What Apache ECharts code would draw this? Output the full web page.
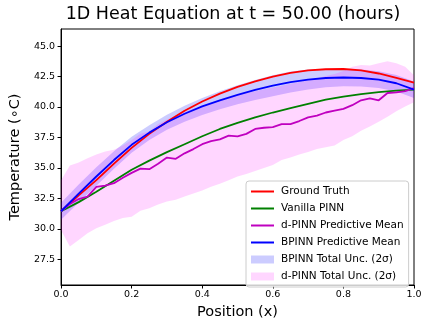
<!DOCTYPE html>
<html>
<head>
<meta charset="utf-8">
<title>1D Heat Equation</title>
<script src="https://cdn.jsdelivr.net/npm/echarts@6/dist/echarts.min.js"></script>
<style>
  html, body { margin: 0; padding: 0; background: #fff; }
  #main { width: 429px; height: 326px; }
</style>
</head>
<body>
<div id="main"></div>
<script>
// positions for the smooth curves (step 0.05)
const posCoarse = [0, 0.05, 0.1, 0.15, 0.2, 0.25, 0.3, 0.35, 0.4, 0.45, 0.5,
                   0.55, 0.6, 0.65, 0.7, 0.75, 0.8, 0.85, 0.9, 0.95, 1.0];
const groundTruth = [31.45, 32.75, 34.0, 35.35, 36.65, 37.8, 38.8, 39.7, 40.45, 41.1, 41.65,
                     42.1, 42.5, 42.8, 43.0, 43.1, 43.12, 43.0, 42.75, 42.4, 42.0];
const vanillaPinn = [31.45, 32.2, 33.05, 33.95, 34.85, 35.6, 36.3, 36.95, 37.6, 38.2, 38.7,
                     39.15, 39.55, 39.9, 40.25, 40.6, 40.85, 41.05, 41.22, 41.35, 41.42];
const bpinnMean = [31.45, 32.9, 34.3, 35.65, 36.9, 37.9, 38.75, 39.45, 40.05, 40.55, 41.0,
                   41.4, 41.75, 42.05, 42.25, 42.38, 42.42, 42.38, 42.25, 41.95, 41.42];
// BPINN 2 sigma half width
const bpinnUnc = [0.7, 0.74, 0.76, 0.72, 0.66, 0.6, 0.62, 0.66, 0.7, 0.74, 0.78,
                  0.82, 0.86, 0.86, 0.82, 0.76, 0.72, 0.7, 0.68, 0.68, 0.68];

// positions for the noisy d-PINN output (step 0.025)
const posFine = [0, 0.025, 0.05, 0.075, 0.1, 0.125, 0.15, 0.175, 0.2, 0.225, 0.25,
                 0.275, 0.3, 0.325, 0.35, 0.375, 0.4, 0.425, 0.45, 0.475, 0.5,
                 0.525, 0.55, 0.575, 0.6, 0.625, 0.65, 0.675, 0.7, 0.725, 0.75,
                 0.775, 0.8, 0.825, 0.85, 0.875, 0.9, 0.925, 0.95, 0.975, 1.0];
const dpinnMean = [31.45, 32.05, 32.45, 32.65, 33.45, 33.55, 33.75, 34.2, 34.6, 34.95, 34.9,
                   35.35, 35.85, 35.75, 36.2, 36.55, 36.95, 37.2, 37.35, 37.65, 37.6,
                   37.8, 38.2, 38.3, 38.35, 38.6, 38.6, 38.85, 39.15, 39.3, 39.55,
                   39.7, 39.85, 40.15, 40.55, 40.7, 40.55, 41.15, 41.2, 41.3, 41.55];
const dpinnUpper = [34.0, 35.2, 35.45, 35.8, 36.1, 36.35, 36.5, 36.85, 37.3, 37.8, 38.0,
                    38.6, 38.95, 39.3, 39.6, 39.85, 40.1, 40.35, 40.6, 40.8, 41.0,
                    41.15, 41.3, 41.45, 41.6, 41.75, 41.9, 42.05, 42.2, 42.35, 42.55,
                    42.7, 42.95, 43.3, 43.45, 43.4, 43.6, 43.75, 43.6, 43.3, 42.6];
const dpinnLower = [29.9, 28.55, 29.1, 29.65, 30.05, 30.35, 30.65, 30.9, 31.0, 31.5, 31.7,
                    32.0, 32.25, 32.4, 32.65, 32.9, 33.15, 33.45, 33.7, 34.0, 34.3,
                    34.5, 34.75, 35.0, 35.25, 35.65, 35.85, 36.1, 36.3, 36.55, 36.7,
                    36.85, 37.3, 37.6, 38.05, 38.4, 38.8, 39.2, 39.65, 40.05, 40.4];

const yTicks = [27.5, 30.0, 32.5, 35.0, 37.5, 40.0, 42.5, 45.0];

const font = 'DejaVu Sans';
const chart = echarts.init(document.getElementById('main'));

function pairs(xs, ys) {
    return xs.map((x, i) => [x, ys[i]]);
}

function bandSeries(name, xs, lo, hi, color) {
    return {
        name: name,
        type: 'custom',
        z: 2,
        silent: true,
        clip: true,
        itemStyle: { color: color },
        data: [[xs[0], lo[0]]],
        renderItem: function (params, api) {
            const pts = [];
            xs.forEach((x, i) => pts.push(api.coord([x, hi[i]])));
            for (let i = xs.length - 1; i >= 0; i--) pts.push(api.coord([xs[i], lo[i]]));
            return { type: 'polygon', shape: { points: pts }, style: { fill: color } };
        }
    };
}

function lineSeries(name, data, color) {
    return {
        name: name,
        type: 'line',
        z: 3,
        symbol: 'none',
        data: data,
        lineStyle: { color: color, width: 1.8 },
        itemStyle: { color: color }
    };
}

const bpinnHi = bpinnMean.map((v, i) => v + bpinnUnc[i]);
const bpinnLo = bpinnMean.map((v, i) => v - bpinnUnc[i]);

const axisCommon = {
    axisLine: { show: true, lineStyle: { color: '#000', width: 1 } },
    axisTick: { show: true, inside: false, length: 3.5, lineStyle: { color: '#000' } },
    splitLine: { show: false },
    nameTextStyle: { fontFamily: font, fontSize: 14.5, color: '#000' }
};

// legend entries for lines: hide the marker, keep the line
const noMarker = { opacity: 0 };

chart.setOption({
    animation: false,
    backgroundColor: '#fff',
    title: {
        text: '1D Heat Equation at t = 50.00 (hours)',
        left: 233,
        textAlign: 'center',
        top: 5,
        padding: 0,
        textStyle: { fontFamily: font, fontSize: 17.5, fontWeight: 'normal', color: '#000' }
    },
    grid: {
        left: 52, right: 15, top: 29, bottom: 41,
        show: true, borderColor: '#000', borderWidth: 1
    },
    xAxis: Object.assign({}, axisCommon, {
        type: 'value',
        min: 0, max: 1, interval: 0.2,
        name: 'Position (x)',
        nameLocation: 'middle',
        nameGap: 18,
        axisLabel: {
            fontFamily: font, fontSize: 9.5, color: '#000', margin: 5,
            formatter: v => v.toFixed(1)
        }
    }),
    yAxis: Object.assign({}, axisCommon, {
        type: 'value',
        min: 25.4, max: 46.4,
        name: 'Temperature (∘C)',
        nameLocation: 'middle',
        nameGap: 32,
        axisTick: { show: true, inside: false, length: 3.5, lineStyle: { color: '#000' }, customValues: yTicks },
        axisLabel: {
            fontFamily: font, fontSize: 9.5, color: '#000', margin: 6,
            customValues: yTicks,
            formatter: v => v.toFixed(1)
        }
    }),
    legend: {
        orient: 'vertical',
        left: 246, top: 181,
        padding: [5, 5, 5, 4],
        itemWidth: 23, itemHeight: 8, itemGap: 6,
        backgroundColor: 'rgba(255,255,255,0.8)',
        borderColor: '#cccccc', borderWidth: 1, borderRadius: 3,
        textStyle: { fontFamily: font, fontSize: 10.5, color: '#000', padding: [0, 0, 0, 2] },
        data: [
            { name: 'Ground Truth', itemStyle: noMarker },
            { name: 'Vanilla PINN', itemStyle: noMarker },
            { name: 'd-PINN Predictive Mean', itemStyle: noMarker },
            { name: 'BPINN Predictive Mean', itemStyle: noMarker },
            { name: 'BPINN Total Unc. (2σ)', icon: 'rect' },
            { name: 'd-PINN Total Unc. (2σ)', icon: 'rect' }
        ]
    },
    series: [
        bandSeries('BPINN Total Unc. (2σ)', posCoarse, bpinnLo, bpinnHi, 'rgba(0,0,255,0.2)'),
        bandSeries('d-PINN Total Unc. (2σ)', posFine, dpinnLower, dpinnUpper, 'rgba(255,0,255,0.16)'),
        lineSeries('Ground Truth', pairs(posCoarse, groundTruth), '#ff0000'),
        lineSeries('Vanilla PINN', pairs(posCoarse, vanillaPinn), '#008000'),
        lineSeries('d-PINN Predictive Mean', pairs(posFine, dpinnMean), '#bf00bf'),
        lineSeries('BPINN Predictive Mean', pairs(posCoarse, bpinnMean), '#0000ff')
    ]
});
</script>
</body>
</html>
